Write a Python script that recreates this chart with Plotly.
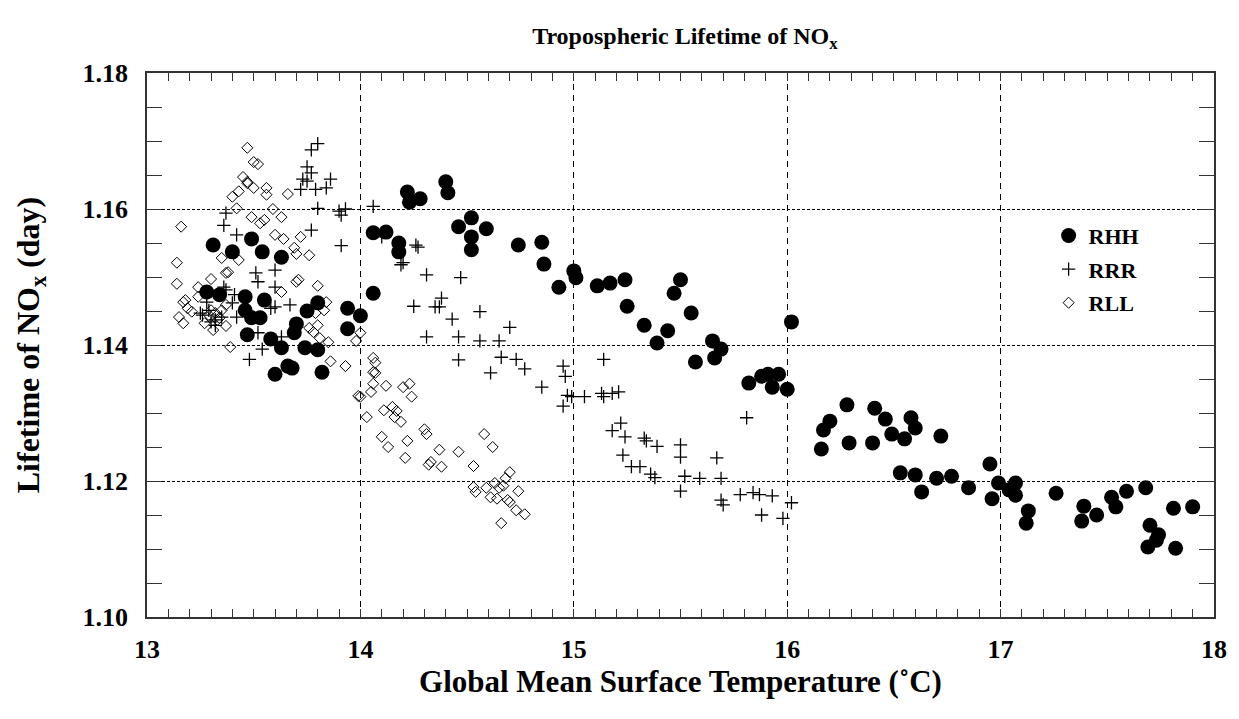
import plotly.graph_objects as go

# ---- data ----
rhh_t = [13.31, 13.40, 13.49, 13.54, 13.63, 13.28, 13.34, 13.46, 13.55, 13.46, 13.49, 13.53,
         13.75, 13.80, 13.94, 14.00, 13.94, 13.70, 13.69, 13.47, 13.58, 13.63, 13.74, 13.80,
         13.60, 13.66, 13.68, 13.82, 14.06, 14.22, 14.23, 14.28, 14.40, 14.41, 14.06, 14.12,
         14.18, 14.18, 14.46, 14.52, 14.59, 14.52, 14.52, 14.74, 14.85, 14.86, 14.93, 15.00,
         15.01, 15.11, 15.17, 15.24, 15.25, 15.33, 15.39, 15.44, 15.47, 15.50, 15.55, 15.57,
         15.65, 15.69, 15.66, 15.82, 15.88, 15.91, 15.96, 15.93, 16.00, 16.02, 16.28, 16.20,
         16.17, 16.16, 16.29, 16.41, 16.46, 16.40, 16.49, 16.58, 16.60, 16.55, 16.72, 16.53,
         16.60, 16.63, 16.70, 16.77, 16.85, 16.95, 16.99, 17.07, 17.04, 17.07, 16.96, 17.13,
         17.12, 17.26, 17.39, 17.38, 17.45, 17.52, 17.54, 17.59, 17.68, 17.70, 17.74, 17.73,
         17.69, 17.82, 17.81, 17.90]
rhh_l = [1.1547, 1.1537, 1.1556, 1.1537, 1.1529, 1.1478, 1.1474, 1.1471, 1.1466, 1.1451, 1.1440, 1.1440,
         1.1450, 1.1462, 1.1454, 1.1443, 1.1424, 1.1431, 1.1418, 1.1415, 1.1409, 1.1396, 1.1396, 1.1393,
         1.1357, 1.1369, 1.1366, 1.1360, 1.1476, 1.1625, 1.1610, 1.1615, 1.1640, 1.1624, 1.1565, 1.1566,
         1.1550, 1.1537, 1.1574, 1.1587, 1.1571, 1.1559, 1.1540, 1.1547, 1.1551, 1.1519, 1.1485, 1.1509,
         1.1499, 1.1487, 1.1491, 1.1496, 1.1457, 1.1429, 1.1403, 1.1421, 1.1476, 1.1496, 1.1447, 1.1375,
         1.1406, 1.1394, 1.1381, 1.1344, 1.1354, 1.1357, 1.1357, 1.1338, 1.1335, 1.1434, 1.1312, 1.1288,
         1.1275, 1.1247, 1.1256, 1.1307, 1.1291, 1.1256, 1.1269, 1.1293, 1.1278, 1.1262, 1.1266, 1.1212,
         1.1209, 1.1184, 1.1204, 1.1207, 1.1190, 1.1225, 1.1197, 1.1197, 1.1187, 1.1179, 1.1174, 1.1156,
         1.1138, 1.1182, 1.1163, 1.1141, 1.1150, 1.1176, 1.1162, 1.1185, 1.1190, 1.1135, 1.1121, 1.1113,
         1.1103, 1.1101, 1.1160, 1.1162]

rrr_t = [13.80, 13.77, 13.75, 13.77, 13.73, 13.75, 13.72, 13.79, 13.84, 13.86, 13.80, 13.90,
         13.93, 13.91, 13.77, 13.91, 13.37, 13.36, 13.42, 13.51, 13.52, 13.60, 13.60, 13.37,
         13.41, 13.40, 13.60, 13.67, 13.58, 13.28, 13.29, 13.32, 13.35, 13.42, 13.52, 13.63,
         13.54, 13.48, 13.25, 13.30, 13.36, 13.32, 13.26, 14.06, 14.10, 14.26, 14.27, 14.19,
         14.20, 14.31, 14.47, 14.38, 14.35, 14.37, 14.25, 14.43, 14.56, 14.70, 14.31, 14.46,
         14.56, 14.65, 14.46, 14.66, 14.73, 14.77, 14.61, 14.85, 14.95, 14.96, 14.97, 14.99,
         14.95, 15.05, 15.13, 15.14, 15.14, 15.18, 15.21, 15.81, 15.22, 15.18, 15.24, 15.33,
         15.34, 15.39, 15.50, 15.50, 15.23, 15.27, 15.31, 15.36, 15.52, 15.67, 15.59, 15.69,
         15.38, 15.50, 15.69, 15.70, 15.78, 15.84, 15.87, 15.88, 15.93, 15.98, 16.02]
rrr_l = [1.1696, 1.1687, 1.1662, 1.1653, 1.1644, 1.1641, 1.1629, 1.1629, 1.1631, 1.1644, 1.1601, 1.1597,
         1.1600, 1.1591, 1.1569, 1.1546, 1.1594, 1.1576, 1.1562, 1.1506, 1.1493, 1.1510, 1.1485, 1.1481,
         1.1474, 1.1462, 1.1456, 1.1459, 1.1454, 1.1463, 1.1451, 1.1437, 1.1441, 1.1441, 1.1418, 1.1412,
         1.1394, 1.1379, 1.1447, 1.1434, 1.1485, 1.1429, 1.1444, 1.1604, 1.1559, 1.1547, 1.1544, 1.1518,
         1.1521, 1.1503, 1.1499, 1.1469, 1.1456, 1.1456, 1.1457, 1.1438, 1.1449, 1.1426, 1.1412, 1.1412,
         1.1406, 1.1406, 1.1378, 1.1382, 1.1379, 1.1365, 1.1359, 1.1338, 1.1369, 1.1354, 1.1326, 1.1324,
         1.1310, 1.1324, 1.1329, 1.1324, 1.1379, 1.1329, 1.1331, 1.1293, 1.1285, 1.1274, 1.1265, 1.1263,
         1.1259, 1.1251, 1.1253, 1.1235, 1.1238, 1.1221, 1.1221, 1.1210, 1.1207, 1.1234, 1.1204, 1.1204,
         1.1205, 1.1185, 1.1172, 1.1165, 1.1180, 1.1183, 1.1180, 1.1150, 1.1178, 1.1145, 1.1168]

rll_t = [13.47, 13.50, 13.52, 13.45, 13.47, 13.47, 13.50, 13.43, 13.40, 13.42, 13.56, 13.56,
         13.66, 13.49, 13.53, 13.55, 13.59, 13.63, 13.60, 13.64, 13.72, 13.69, 13.76, 13.16,
         13.14, 13.14, 13.35, 13.37, 13.38, 13.43, 13.30, 13.24, 13.17, 13.19, 13.21, 13.15,
         13.17, 13.27, 13.31, 13.37, 13.32, 13.33, 13.35, 13.37, 13.70, 13.63, 13.80, 13.84,
         13.79, 13.80, 13.76, 13.78, 13.81, 13.85, 13.98, 14.00, 13.39, 13.86, 13.93, 13.99,
         13.18, 13.24, 13.30, 13.29, 13.34, 13.70, 13.71, 13.83, 14.06, 14.06, 14.07, 14.07,
         14.06, 14.05, 14.12, 14.00, 14.03, 14.20, 14.23, 14.24, 14.11, 14.15, 14.17, 14.16,
         14.19, 14.10, 14.13, 14.22, 14.21, 14.30, 14.31, 14.37, 14.33, 14.32, 14.38, 14.46,
         14.53, 14.58, 14.62, 14.53, 14.54, 14.59, 14.61, 14.63, 14.65, 14.67, 14.70, 14.68,
         14.64, 14.69, 14.70, 14.74, 14.73, 14.77, 14.66]
rll_l = [1.1690, 1.1669, 1.1666, 1.1647, 1.1640, 1.1638, 1.1631, 1.1626, 1.1618, 1.1601, 1.1631, 1.1621,
         1.1622, 1.1588, 1.1579, 1.1584, 1.1600, 1.1588, 1.1562, 1.1556, 1.1559, 1.1543, 1.1532, 1.1574,
         1.1521, 1.1490, 1.1528, 1.1506, 1.1507, 1.1525, 1.1497, 1.1485, 1.1463, 1.1454, 1.1449, 1.1441,
         1.1432, 1.1432, 1.1422, 1.1428, 1.1447, 1.1437, 1.1451, 1.1459, 1.1493, 1.1478, 1.1487, 1.1463,
         1.1447, 1.1429, 1.1425, 1.1419, 1.1410, 1.1404, 1.1406, 1.1418, 1.1397, 1.1376, 1.1369, 1.1325,
         1.1466, 1.1471, 1.1451, 1.1444, 1.1440, 1.1534, 1.1496, 1.1451, 1.1381, 1.1360, 1.1374, 1.1359,
         1.1343, 1.1331, 1.1340, 1.1324, 1.1294, 1.1338, 1.1343, 1.1324, 1.1304, 1.1309, 1.1303, 1.1294,
         1.1287, 1.1265, 1.1250, 1.1259, 1.1234, 1.1276, 1.1269, 1.1246, 1.1228, 1.1224, 1.1221, 1.1243,
         1.1222, 1.1269, 1.1250, 1.1191, 1.1184, 1.1190, 1.1176, 1.1197, 1.1190, 1.1193, 1.1213, 1.1204,
         1.1174, 1.1172, 1.1169, 1.1185, 1.1157, 1.1151, 1.1138]

series_names = ["RHH", "RRR", "RLL"]
x_ticks = [13, 14, 15, 16, 17, 18]
y_ticks = [1.10, 1.12, 1.14, 1.16, 1.18]

FONT = "Liberation Serif, Times New Roman, serif"

fig = go.Figure()
fig.add_trace(go.Scatter(x=rhh_t, y=rhh_l, mode="markers", name=series_names[0], legendgroup="a",
                         marker=dict(symbol="circle", size=15, color="black", line=dict(width=0))))
fig.add_trace(go.Scatter(x=rrr_t, y=rrr_l, mode="markers", name=series_names[1], legendgroup="b",
                         marker=dict(symbol="cross-thin", size=9.5, color="black",
                                     line=dict(width=1.3, color="black"))))
fig.add_trace(go.Scatter(x=rll_t, y=rll_l, mode="markers", name=series_names[2], legendgroup="c",
                         marker=dict(symbol="diamond-open", size=8.5, color="black",
                                     line=dict(width=1, color="black"))))

axis_common = dict(
    showline=True, linecolor="#333", linewidth=1.5, mirror="allticks",
    ticks="inside", tickcolor="#333", showgrid=True, gridcolor="black", gridwidth=1,
    zeroline=False, tickfont=dict(family=FONT, size=26, color="black", weight="bold"),
)

fig.update_xaxes(
    range=[13, 18], tickvals=x_ticks, ticktext=[str(v) for v in x_ticks], ticklen=8,
    griddash="6px,5px", ticklabelstandoff=8,
    minor=dict(dtick=0.1, ticks="inside", ticklen=8, tickcolor="#333", showgrid=False),
    title=dict(text="Global Mean Surface Temperature (˚C)", standoff=6,
               font=dict(family=FONT, size=31, color="black", weight="bold")),
    **axis_common,
)
fig.update_yaxes(
    range=[1.10, 1.18], tickvals=y_ticks, ticktext=[f"{v:.2f}" for v in y_ticks], ticklen=15,
    griddash="3px,2px", ticklabelstandoff=12,
    minor=dict(dtick=0.005, tick0=1.10, ticks="inside", ticklen=15, tickcolor="#333", showgrid=False),
    title=dict(text="Lifetime of NO<sub>x</sub> (day)", standoff=33,
               font=dict(family=FONT, size=32, color="black", weight="bold")),
    **axis_common,
)

fig.update_layout(
    width=1239, height=719,
    margin=dict(l=147, r=16, t=73, b=102),
    paper_bgcolor="white", plot_bgcolor="white",
    title=dict(text="Tropospheric Lifetime of NO<sub>x</sub>", x=0.5528, xanchor="center",
               y=0.95, yanchor="middle",
               font=dict(family=FONT, size=24, color="black", weight="bold")),
    legend=dict(x=0.845, y=0.7395, xanchor="left", yanchor="top", bgcolor="rgba(0,0,0,0)",
                font=dict(family=FONT, size=22, color="black", weight="bold"),
                tracegroupgap=2, itemsizing="trace"),
    showlegend=True,
)

fig.write_html("out.html")
